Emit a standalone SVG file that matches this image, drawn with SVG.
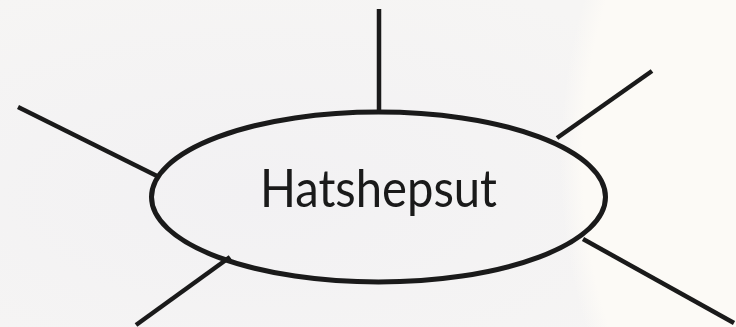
<svg xmlns="http://www.w3.org/2000/svg" width="736" height="327" viewBox="0 0 736 327">
  <style>
    .ln { stroke: #1a1a1a; stroke-width: 4.5; fill: none; stroke-linecap: butt; }
    .node { stroke: #1a1a1a; stroke-width: 5; fill: none; }
    .lbl { font-family: Lato, "Open Sans", "Liberation Sans", sans-serif; font-size: 52px; font-weight: 400; fill: #1a1a1a; }
  </style>
  <defs>
    <radialGradient id="bg" cx="0.35" cy="0.6" r="0.7">
      <stop offset="0" stop-color="#f2f1f3"/>
      <stop offset="1" stop-color="#f6f5f4"/>
    </radialGradient>
    <radialGradient id="warm" cx="1120" cy="160" r="560" gradientUnits="userSpaceOnUse">
      <stop offset="0.96" stop-color="#fcfaf6" stop-opacity="1"/>
      <stop offset="1" stop-color="#fcfaf6" stop-opacity="0"/>
    </radialGradient>
  </defs>
  <g id="background">
    <rect x="0" y="0" width="736" height="327" fill="url(#bg)"/>
    <circle cx="1120" cy="160" r="560" fill="url(#warm)"/>
  </g>
  <g id="connectors">
    <line class="ln" x1="379" y1="9" x2="379" y2="110"/>
    <line class="ln" x1="18" y1="107" x2="157" y2="176"/>
    <line class="ln" x1="652" y1="71" x2="557" y2="138"/>
    <line class="ln" x1="136" y1="325" x2="230" y2="257"/>
    <line class="ln" x1="583" y1="239" x2="734" y2="323"/>
  </g>
  <g id="node-hatshepsut">
    <ellipse class="node" cx="378.5" cy="197" rx="227" ry="85"/>
    <text class="lbl" x="260" y="207" textLength="237" lengthAdjust="spacingAndGlyphs">Hatshepsut</text>
  </g>
</svg>
